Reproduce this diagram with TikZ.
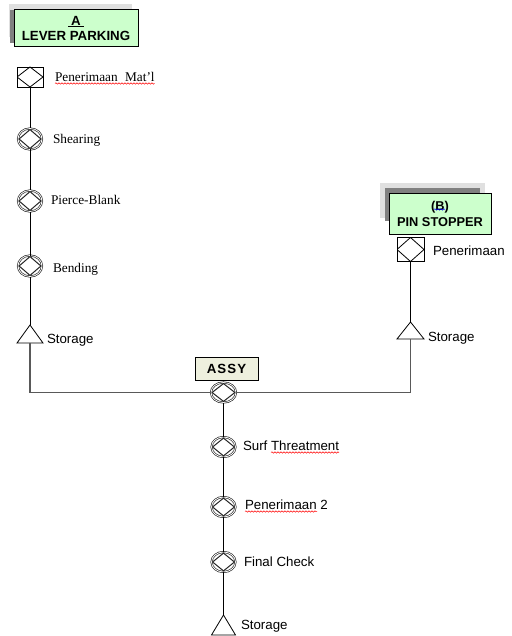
\documentclass[tikz,border=0pt]{standalone}
\usepackage{fontspec}
\setmainfont{Liberation Serif}
\newfontfamily\arial{Liberation Sans}
\newfontfamily\arialsp{Liberation Sans}[LetterSpace=8]
\usetikzlibrary{shapes.geometric,decorations.pathmorphing}
\definecolor{hdrgreen}{RGB}{204,255,204}
\definecolor{assyfill}{RGB}{238,240,222}
\definecolor{shdark}{RGB}{128,128,128}
\definecolor{shlight}{RGB}{224,224,224}
\begin{document}
\begin{tikzpicture}[x=1pt,y=-1pt,
  every node/.style={inner sep=0pt, outer sep=0pt},
  flow/.style={line width=0.8pt, black},
  merge/.style={line width=1.2pt, black!65},
  recv/.style={rectangle, draw, line width=0.8pt, minimum width=26pt, minimum height=20pt,
    path picture={\draw[line width=0.8pt] (path picture bounding box.north) -- (path picture bounding box.east) -- (path picture bounding box.south) -- (path picture bounding box.west) -- cycle;}},
  proc/.style={ellipse, minimum width=24pt, minimum height=21pt, draw=black!85, line width=0.65pt, double=white, double distance=0.8pt,
    path picture={\draw[line width=1pt] ([yshift=-1.1pt]path picture bounding box.north) -- ([xshift=-1.1pt]path picture bounding box.east) -- ([yshift=1.1pt]path picture bounding box.south) -- ([xshift=1.1pt]path picture bounding box.west) -- cycle;}},
  tribox/.style={rectangle, minimum width=26pt, minimum height=18pt},
  trishape/.style={line width=0.8pt, line join=miter},
  lbl/.style={anchor=west, font=\fontsize{13.3}{15}\selectfont, text height=9pt, text depth=0pt},
  slbl/.style={lbl, font=\arial\fontsize{13.3}{15}\selectfont},
  hdr/.style={draw, line width=0.8pt, fill=hdrgreen, align=center},
  wave/.style={decorate, decoration={snake, amplitude=0.7pt, segment length=3pt}, line width=0.5pt, red},
]
\useasboundingbox (0,0) rectangle (511,636);
\fill[white] (0,0) rectangle (511,636);

% header A
\fill[shlight] (9,4) rectangle (132,37);
\fill[shdark] (10,10) rectangle (130,43);
\node[hdr, minimum width=124pt, minimum height=37pt, font=\arial\bfseries\fontsize{13.3}{15}\selectfont] (boxA) at (76,28) {\underline{\hspace{3pt}A\hspace{3pt}}\\LEVER PARKING};

% header B
\fill[shlight] (380,183) rectangle (485,218);
\fill[shdark] (385,188) rectangle (480,221);
\node[hdr, minimum width=102pt, minimum height=41pt, font=\arial\bfseries\fontsize{12.8}{16}\selectfont] (boxB) at (440,213.5) {(B)\\PIN STOPPER};
\draw[wave, blue] ([shift={(-6,-4)}]boxB.center) -- ([shift={(5,-4)}]boxB.center);

% left branch
\node[recv] (pm) at (30,77) {};
\node[proc] (sh) at (30,139) {};
\node[proc] (pb) at (30,201) {};
\node[proc] (bd) at (30,266) {};
\node[tribox] (s1) at (30,334) {};
\draw[trishape] (s1.south west) -- (s1.north) -- (s1.south east) -- cycle;

\node[lbl] (lpm) at (55,77) {Penerimaan\hspace{0.55em}Mat'l};
\node[lbl] (lsh) at (53,139) {Shearing};
\node[lbl] (lpb) at (51,200) {Pierce-Blank};
\node[lbl] (lbd) at (53,268) {Bending};
\node[slbl] (ls1) at (47,339) {Storage};
\draw[wave] ([shift={(0,2)}]lpm.south west) -- ([shift={(0,2)}]lpm.south east);

% right branch
\node[recv, minimum width=27pt, minimum height=24pt] (pn) at (410.5,249.5) {};
\node[tribox, minimum width=27pt, minimum height=17pt] (s2) at (410.5,330.5) {};
\draw[trishape] (s2.south west) -- (s2.north) -- (s2.south east) -- cycle;
\node[slbl] (lpn) at (433,251) {Penerimaan};
\node[slbl] (ls2) at (428,337) {Storage};

% assy
\node[draw, line width=0.8pt, fill=assyfill, minimum width=63pt, minimum height=23pt, font=\arialsp\bfseries\fontsize{13.3}{15}\selectfont] (assyb) at (226.5,368.5) {ASSY};
\node[proc, minimum height=20pt, minimum width=25pt] (assy) at (223.5,392.5) {};

% bottom branch
\node[proc, minimum height=20pt] (st) at (223.5,447) {};
\node[proc, minimum height=20pt] (p2) at (223.5,507) {};
\node[proc, minimum height=20pt] (fc) at (223.5,562) {};
\node[tribox, minimum width=24pt, minimum height=20pt] (s3) at (223.5,625) {};
\draw[trishape] (s3.south west) -- (s3.north) -- (s3.south east) -- cycle;
\node[slbl] (lst) at (243,446) {Surf Threatment};
\node[slbl] (lp2) at (245,505) {Penerimaan 2};
\node[slbl] (lfc) at (244,562) {Final Check};
\node[slbl] (ls3) at (241,625) {Storage};
\draw[wave] ([shift={(28,2)}]lst.south west) -- ([shift={(0,2)}]lst.south east);
\draw[wave] ([shift={(0,2)}]lp2.south west) -- ([shift={(72,2)}]lp2.south west);

% connectors
\draw[flow] (pm) -- (sh);
\draw[flow] (sh) -- (pb);
\draw[flow] (pb) -- (bd);
\draw[flow] (bd) -- (s1.north);
\draw[merge] (s1.south) |- (assy);
\draw[merge] (assy) -| (s2.south);
\draw[flow] (pn) -- (s2.north);
\draw[flow] (assy) -- (st);
\draw[flow] (st) -- (p2);
\draw[flow] (p2) -- (fc);
\draw[flow] (fc) -- (s3.north);
\end{tikzpicture}
\end{document}
